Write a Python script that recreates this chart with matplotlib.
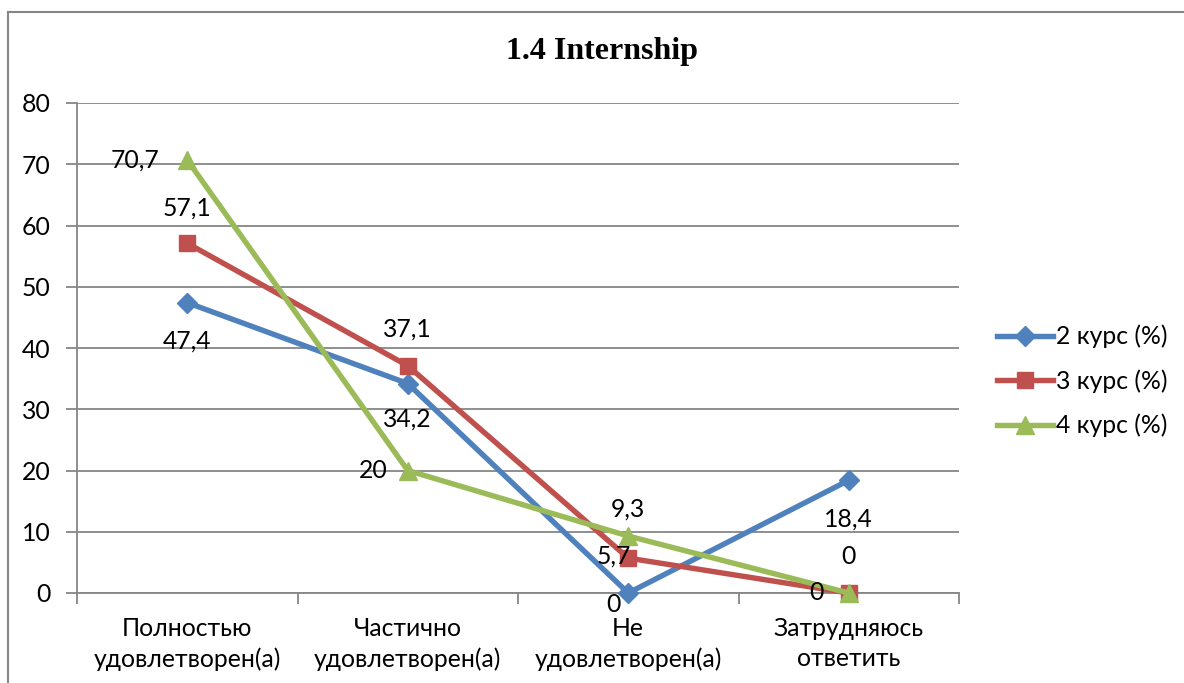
import matplotlib.pyplot as plt
from matplotlib.lines import Line2D

# Chart data
categories = ["Полностью\nудовлетворен(а)", "Частично\nудовлетворен(а)",
              "Не\nудовлетворен(а)", "Затрудняюсь\nответить"]
series_names = ["2 курс (%)", "3 курс (%)", "4 курс (%)"]
kurs2 = [47.4, 34.2, 0, 18.4]
kurs3 = [57.1, 37.1, 5.7, 0]
kurs4 = [70.7, 20, 9.3, 0]
y_ticks = [0, 10, 20, 30, 40, 50, 60, 70, 80]

# Style
plt.rcParams['font.family'] = ['Lato', 'DejaVu Sans']
W, H = 1184, 683
grey = '#868686'
colors = ['#4F81BD', '#C0504D', '#9BBB59']
markers = ['D', 's', '^']
msizes = [10, 12, 13]
fs = 17.8

fig = plt.figure(figsize=(W / 100, H / 100), dpi=100)
ax = fig.add_axes([77 / W, (H - 593) / H, (959 - 77) / W, (593 - 103) / H])

x = list(range(len(categories)))
all_series = [kurs2, kurs3, kurs4]
for vals, name, c, m, ms in zip(all_series, series_names, colors, markers, msizes):
    ax.plot(x, vals, color=c, lw=3.9, marker=m, markersize=ms,
            markeredgecolor=c, label=name, zorder=3, clip_on=False)

# data labels: (series index, point index) -> (dx, dy) offsets in pixels
label_offsets = {
    (0, 0): (0, -38), (0, 1): (0, -36), (0, 2): (-15, -12), (0, 3): (0, -39),
    (1, 0): (0, 35), (1, 1): (0, 37), (1, 2): (-14, 2), (1, 3): (0, 36),
    (2, 0): (-52, 0), (2, 1): (-34, 0), (2, 2): (0, 27), (2, 3): (-32, 0),
}
for si, vals in enumerate(all_series):
    for pi, v in enumerate(vals):
        dx, dy = label_offsets[(si, pi)]
        txt = ('%g' % v).replace('.', ',')
        ax.annotate(txt, (pi, v), xytext=(dx, dy), textcoords='offset pixels',
                    ha='center', va='center', fontsize=fs, color='black', zorder=4)

ax.set_xlim(-0.5, 3.5)
ax.set_ylim(0, 80)
ax.set_yticks(y_ticks)
ax.yaxis.grid(True, color=grey, lw=1.3)
ax.set_axisbelow(True)

ax.set_xticks([-0.5, 0.5, 1.5, 2.5, 3.5])
ax.set_xticklabels([])
ax.set_xticks(x, minor=True)
ax.set_xticklabels(categories, minor=True, fontsize=fs, linespacing=1.4)
ax.tick_params(axis='x', which='minor', length=0, pad=17)
ax.tick_params(axis='x', which='major', length=8, width=1.3, color=grey)
ax.tick_params(axis='y', length=8, width=1.3, color=grey, labelsize=fs, pad=11)

for s in ['top', 'right']:
    ax.spines[s].set_visible(False)
for s in ['left', 'bottom']:
    ax.spines[s].set_color(grey)
    ax.spines[s].set_linewidth(1.3)

fig.text(602 / W, 1 - 52 / H, "1.4 Internship", ha='center', va='center',
         fontsize=23, fontweight='bold', family='Liberation Serif')

fig.legend(loc='center left', bbox_to_anchor=(997 / W, 1 - 381 / H), frameon=False,
           fontsize=fs, handlelength=2.25, handletextpad=0.12, labelspacing=0.85,
           borderpad=0, borderaxespad=0)

# outer chart frame (only left and top edges visible)
fig.add_artist(Line2D([8 / W, 8 / W], [0, 1 - 12 / H], color=grey, lw=1.5,
                      transform=fig.transFigure))
fig.add_artist(Line2D([8 / W, 1], [1 - 12 / H, 1 - 12 / H], color=grey, lw=1.5,
                      transform=fig.transFigure))

fig.savefig('out.png', dpi=100)
